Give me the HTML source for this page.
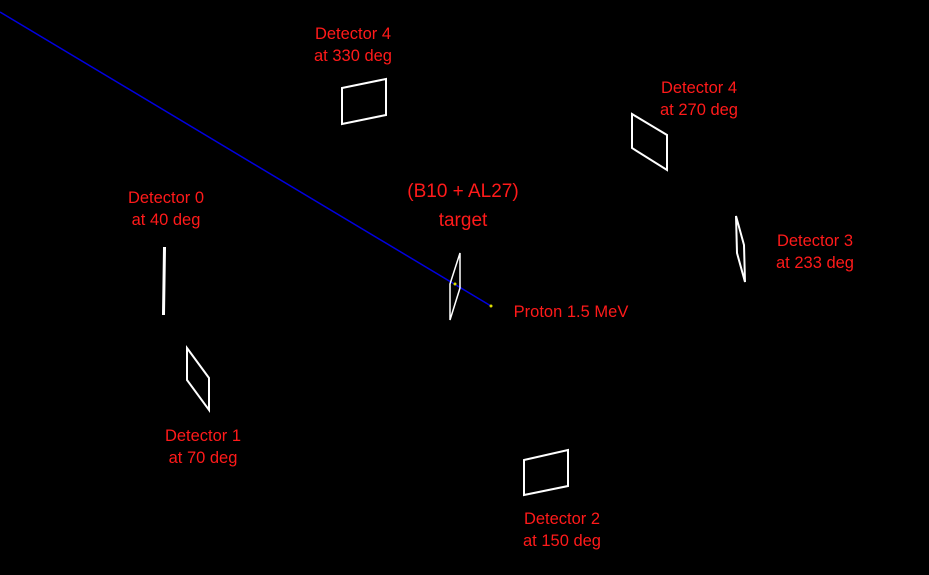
<!DOCTYPE html>
<html><head><style>
body{margin:0;background:#000;width:929px;height:575px;overflow:hidden}
svg{display:block}
text{font-family:"Liberation Sans",sans-serif;font-size:16.5px;fill:#ff1a1a;text-anchor:middle}
</style></head><body>
<svg width="929" height="575" viewBox="0 0 929 575">
<rect width="929" height="575" fill="#000"/>
<line x1="0" y1="12" x2="491" y2="306" stroke="#0000e0" stroke-width="1.5"/>
<g fill="none" stroke="#fff" stroke-width="2">
<polygon points="460,253 460,288 450,320 450,284" stroke-width="1.5"/>
<polygon points="342,88 386,79 386,115 342,124"/>
<polygon points="632,114 667,135 667,170 632,148"/>
<polygon points="736,216 744,245 745,282 737,253"/>
<polygon points="164,248 165,248 164,314 163,314"/>
<polygon points="187,348 209,378 209,410 187,380"/>
<polygon points="524,460 568,450 568,486 524,495"/>
</g>
<circle cx="455" cy="284" r="1.5" fill="#dd0"/>
<circle cx="491" cy="306" r="1.5" fill="#dd0"/>
<text x="353" y="39">Detector 4</text><text x="353" y="61">at 330 deg</text>
<text x="699" y="93">Detector 4</text><text x="699" y="115">at 270 deg</text>
<text x="166" y="203">Detector 0</text><text x="166" y="225">at 40 deg</text>
<text x="815" y="246">Detector 3</text><text x="815" y="268">at 233 deg</text>
<text x="203" y="441">Detector 1</text><text x="203" y="463">at 70 deg</text>
<text x="562" y="524">Detector 2</text><text x="562" y="546">at 150 deg</text>
<text x="463" y="197" style="font-size:19px">(B10 + AL27)</text>
<text x="463" y="226" style="font-size:19px">target</text>
<text x="571" y="317">Proton 1.5 MeV</text>
</svg>
</body></html>
